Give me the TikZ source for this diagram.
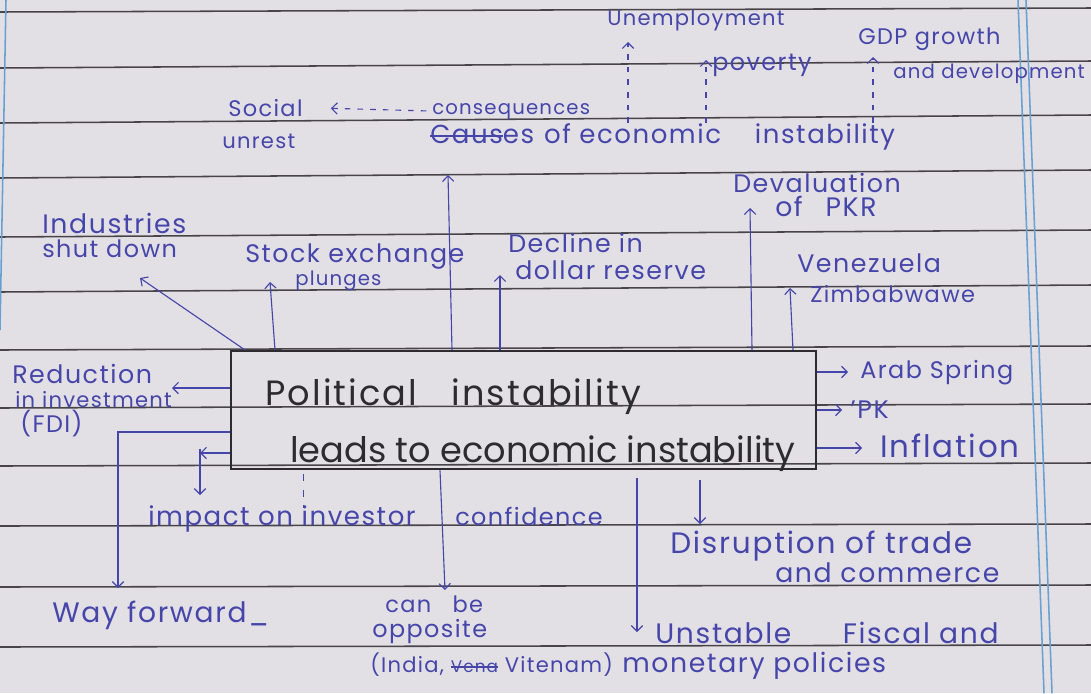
\documentclass[tikz,border=0pt]{standalone}
\usepackage{fontspec}
\setmainfont[LetterSpace=6]{Poppins}
\usetikzlibrary{arrows.meta}
\definecolor{paper}{RGB}{226,223,229}
\definecolor{rulegray}{RGB}{72,68,74}
\definecolor{marginblue}{RGB}{105,160,210}
\definecolor{inkblue}{RGB}{70,70,170}
\definecolor{pencil}{RGB}{45,43,48}
\newcommand{\fsz}[1]{\fontsize{#1}{#1}\selectfont}
\newcommand{\crossout}[1]{\setbox0\hbox{#1}\rlap{\rule[0.25em]{\wd0}{1.2pt}}\box0}

\begin{document}
\begin{tikzpicture}[x=0.025cm, y=-0.025cm,
    ink/.style={text=inkblue, inner sep=0pt, anchor=base west},
    pen/.style={text=pencil, inner sep=0pt, anchor=base west, font=\fsz{25}},
    arrow/.style={-{Straight Barb[length=4pt,width=8pt]}, draw=inkblue, line width=0.8pt},
    dasharrow/.style={arrow, dash pattern=on 4pt off 5pt},
    mainbox/.style={draw=pencil, line width=1.6pt, minimum width=14.625cm, minimum height=2.95cm, anchor=north west, inner sep=0pt},
    ruled/.style={draw=rulegray, line width=1.1pt},
    marginline/.style={draw=marginblue, line width=1.1pt}
]

% Paper
\useasboundingbox (0,0) rectangle (1091,693);
\fill[paper] (0,0) rectangle (1091,693);
\foreach \y/\d in {12/4, 68/7, 123/8, 178/8, 237/7, 292/7, 350/4, 408/4, 466/3, 526/2, 587/2, 647/2}
  \draw[ruled] (0,\y) -- (1091,\y-\d);
\draw[marginline] (1018,0) -- (1044,693);
\draw[marginline] (1026,0) -- (1052,693);
\draw[marginline] (6,0) -- (0,330);

% Central box
\node[mainbox] (box) at (230,350) {};
\node[pen] (pol) at (265,405) {Political\hspace{16pt} instability};
\node[pen] (leads) at (290,462) {\addfontfeature{LetterSpace=0}leads to economic instability};

% Consequences
\node[ink, font=\fsz{15}] (unemp) at (607,25) {Unemployment};
\node[ink, font=\fsz{17}] (poverty) at (712,70) {poverty};
\node[ink, font=\fsz{16}] (gdp) at (858,44) {GDP growth};
\node[ink, font=\fsz{14}] (gdpdev) at (893,78) {and development};
\node[ink, font=\fsz{16}] (social) at (228,116) {Social};
\node[ink, font=\fsz{15}] (unrest) at (222,148) {unrest};
\node[ink, font=\fsz{14}] (conseq) at (432,114) {consequences};
\node[ink, font=\fsz{18.5}] (causes) at (430,143) {\crossout{Caus}es\hspace{1pt} of economic\hspace{18pt} instability};

% Effects above the box
\node[ink, font=\fsz{19}] (industries) at (42,233) {Industries};
\node[ink, font=\fsz{17}] (shutdown) at (42,257) {shut down};
\node[ink, font=\fsz{18}] (stock) at (245,262) {Stock exchange};
\node[ink, font=\fsz{14}] (plunges) at (295,285) {plunges};
\node[ink, font=\fsz{18}] (decline) at (508,252) {Decline in};
\node[ink, font=\fsz{18}] (dollar) at (515,279) {dollar reserve};
\node[ink, font=\fsz{18}] (deval) at (733,192) {Devaluation};
\node[ink, font=\fsz{19}] (pkr) at (775,216) {of\hspace{10pt} PKR};
\node[ink, font=\fsz{18}] (venez) at (797,272) {Venezuela};
\node[ink, font=\fsz{16}] (zimb) at (810,302) {Zimbabwawe};

% Left side
\node[ink, font=\fsz{18}] (reduc) at (12,383) {Reduction};
\node[ink, font=\fsz{15}] (invest) at (15,407) {in investment};
\node[ink, font=\fsz{17}] (fdi) at (20,432) {(FDI)};
\node[ink, font=\fsz{20}] (wayfwd) at (52,622) {Way forward\_};

% Right side
\node[ink, font=\fsz{17}] (arab) at (860,378) {Arab Spring};
\node[ink, font=\fsz{18}] (pk) at (850,418) {'PK};
\node[ink, font=\fsz{22}] (infl) at (880,457) {Inflation};

% Below the box
\node[ink, font=\fsz{18.5}] (impact) at (148,525) {impact on investor};
\node[ink, font=\fsz{17}] (confid) at (455,525) {confidence};
\node[ink, font=\fsz{16}] (canbe) at (385,612) {can\hspace{10pt} be};
\node[ink, font=\fsz{17}] (opposite) at (372,637) {opposite};
\node[ink, font=\fsz{15}] (india) at (370,672) {(India, {\fsz{12}\crossout{Vena}} Vitenam)};
\node[ink, font=\fsz{21}] (disrupt) at (670,553) {Disruption of trade};
\node[ink, font=\fsz{19}] (commerce) at (775,582) {and commerce};
\node[ink, font=\fsz{20}] (unstable) at (655,643) {Unstable\hspace{30pt} Fiscal and};
\node[ink, font=\fsz{19}] (monetary) at (622,672) {monetary policies};

% Arrow ends
\coordinate (tipUnemp) at (628,42);
\coordinate (tipPov) at (706,60);
\coordinate (tipGdp) at (873,57);
\coordinate (tipInd) at (140,278);
\coordinate (tipStock) at (270,282);
\coordinate (tipCauses) at (448,175);
\coordinate (tipDecl) at (500,275);
\coordinate (tipDeval) at (750,208);
\coordinate (tipVenez) at (790,288);
\coordinate (tipReduc) at (172,388);
\coordinate (cornerWay) at (118,432);
\coordinate (tipWay) at (118,588);
\coordinate (tipImpL) at (200,453);
\coordinate (tipImpD) at (200,495);
\coordinate (tipOpp) at (445,590);
\coordinate (tipUnst) at (637,632);
\coordinate (tipDisr) at (700,524);
\coordinate (tipArab) at (848,372);
\coordinate (tipPk) at (842,410);
\coordinate (tipInfl) at (862,448);

% Arrows to consequences
\draw[dasharrow] (causes.north -| tipUnemp) -- (tipUnemp);
\draw[dasharrow] (causes.north -| tipPov) -- (tipPov);
\draw[dasharrow] (causes.north -| tipGdp) -- (tipGdp);
\draw[dasharrow, shorten <=4pt, shorten >=0.7cm] (conseq.west) -- (social.east);

% Arrows from the box
\draw[arrow] (box.north west) ++(15,0) -- (tipInd);
\draw[arrow] (box.north west) ++(45,0) -- (tipStock);
\draw[arrow] (box.north west) ++(222,0) -- (tipCauses);
\draw[arrow] (box.north west) ++(270,0) -- (tipDecl);
\draw[arrow] (box.north west) ++(522,0) -- (tipDeval);
\draw[arrow] (box.north west) ++(563,0) -- (tipVenez);
\draw[arrow] (box.west |- tipReduc) -- (tipReduc);
\draw[arrow] (box.west |- cornerWay) -| (tipWay);
\draw[arrow] (box.west |- tipImpL) -- (tipImpL);
\draw[arrow] (tipImpL) ++(0,-4) -- (tipImpD);
\draw[inkblue, line width=0.7pt, dash pattern=on 5pt off 6pt] (box.south west) ++(73,4) -- ++(0,34);
\draw[arrow] (box.south west) ++(210,0) -- (tipOpp);
\draw[arrow] (box.south west) ++(407,8) -- (tipUnst);
\draw[arrow] (box.south west) ++(470,10) -- (tipDisr);
\draw[arrow] (box.east |- tipArab) -- (tipArab);
\draw[arrow] (box.east |- tipPk) -- (tipPk);
\draw[arrow] (box.east |- tipInfl) -- (tipInfl);

\end{tikzpicture}
\end{document}
